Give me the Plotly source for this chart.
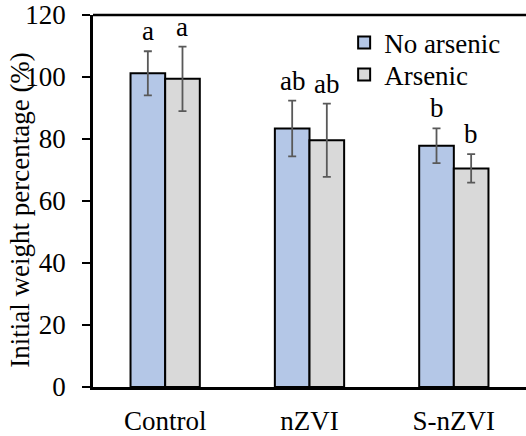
import plotly.graph_objects as go

categories = ["Control", "nZVI", "S-nZVI"]
no_arsenic = [101.2, 83.4, 77.8]
no_arsenic_err = [7.1, 9.0, 5.6]
arsenic = [99.4, 79.6, 70.5]
arsenic_err = [10.4, 11.8, 4.6]
letters_no = ["a", "ab", "b"]
letters_as = ["a", "ab", "b"]
y_ticks = [0, 20, 40, 60, 80, 100, 120]
y_title = "Initial weight percentage (%)"

FONT = "Liberation Serif"
FS = 27

fig = go.Figure()
fig.add_trace(go.Bar(
    name="No arsenic", x=categories, y=no_arsenic, legend="legend",
    marker=dict(color="#B4C7E7", line=dict(color="black", width=2)),
    error_y=dict(type="data", array=no_arsenic_err, color="#595959", thickness=1.8, width=4),
))
fig.add_trace(go.Bar(
    name="Arsenic", x=categories, y=arsenic, legend="legend2",
    marker=dict(color="#D9D9D9", line=dict(color="black", width=2)),
    error_y=dict(type="data", array=arsenic_err, color="#595959", thickness=1.8, width=4),
))

for i, c in enumerate(categories):
    fig.add_annotation(x=c, y=no_arsenic[i] + no_arsenic_err[i], text=letters_no[i],
                       xshift=-17, yshift=3, yanchor="bottom", showarrow=False,
                       font=dict(family=FONT, size=FS, color="black"))
    fig.add_annotation(x=c, y=arsenic[i] + arsenic_err[i], text=letters_as[i],
                       xshift=17, yshift=3, yanchor="bottom", showarrow=False,
                       font=dict(family=FONT, size=FS, color="black"))

# y-axis title (slightly below the axis centre, as in the original)
fig.add_annotation(xref="paper", yref="paper", x=-0.169, y=0.476, text=y_title,
                   textangle=-90, xanchor="center", yanchor="middle", showarrow=False,
                   font=dict(family=FONT, size=FS, color="black"))

fig.add_shape(type="line", xref="paper", yref="paper", x0=0, x1=1, y0=1, y1=1,
              line=dict(color="black", width=2.5), layer="above")

leg_common = dict(xanchor="left", yanchor="middle", bgcolor="rgba(0,0,0,0)",
                  font=dict(family=FONT, size=FS, color="black"), itemwidth=30)

fig.update_layout(
    width=526, height=436,
    margin=dict(l=93, r=0, t=15, b=49),
    paper_bgcolor="white", plot_bgcolor="white",
    barmode="group", bargap=0.52, bargroupgap=0,
    font=dict(family=FONT, size=FS, color="black"),
    showlegend=True,
    legend=dict(x=0.58, y=0.925, **leg_common),
    legend2=dict(x=0.58, y=0.839, **leg_common),
    xaxis=dict(range=[-0.5, 2.5], showline=True, linecolor="black", linewidth=2.5,
               ticks="", ticklabelstandoff=8,
               tickfont=dict(family=FONT, size=FS), automargin=False),
    yaxis=dict(range=[0, 120], tickvals=y_ticks, showline=True, linecolor="black",
               linewidth=2.5, ticks="outside", ticklen=8, tickwidth=2, tickcolor="black",
               ticklabelstandoff=11,
               showgrid=False, zeroline=False, tickfont=dict(family=FONT, size=FS),
               automargin=False),
)

fig.write_html("out.html", config={"displayModeBar": False},
               post_script="document.body.style.margin='0';document.body.style.overflow='hidden';")
